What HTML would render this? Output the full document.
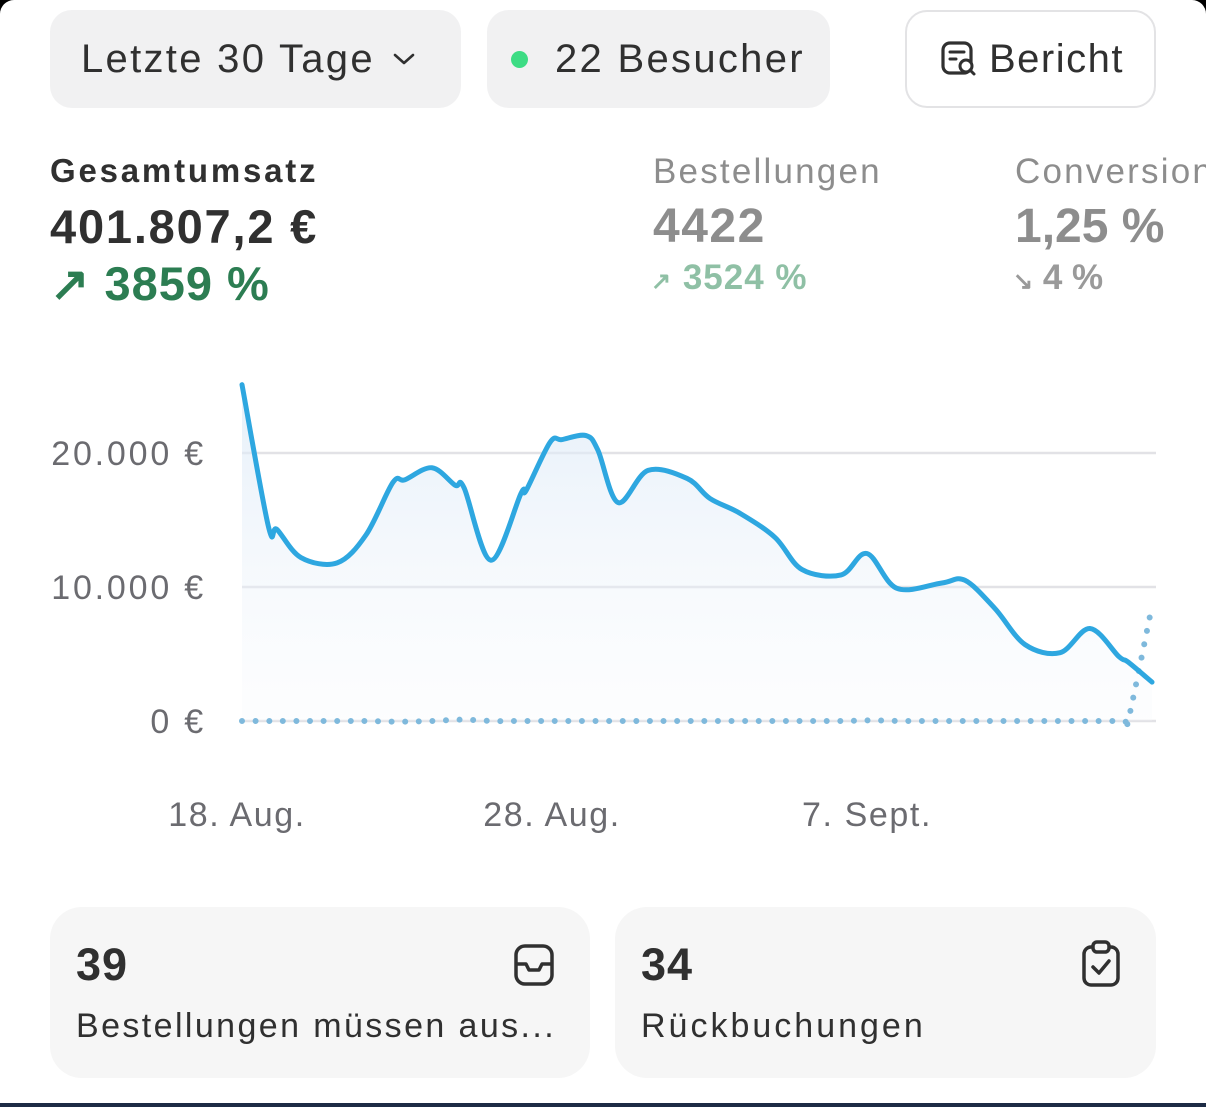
<!DOCTYPE html>
<html><head><meta charset="utf-8">
<style>
html,body{margin:0;padding:0;}
body{width:1206px;height:1107px;position:relative;overflow:hidden;background:#fff;font-family:"Liberation Sans",sans-serif;}
.abs{position:absolute;}
.pill{position:absolute;top:10px;height:98px;border-radius:22px;background:#f1f1f2;box-sizing:border-box;display:flex;align-items:center;font-size:40px;color:#303030;letter-spacing:2.3px;white-space:nowrap;}
.lab{position:absolute;font-size:34px;white-space:nowrap;}
.card{position:absolute;top:907px;height:171px;border-radius:32px;background:#f6f6f6;}
</style></head><body>
<div class="abs" style="left:0;top:0;width:14px;height:14px;background:#000;"></div>
<div class="abs" style="left:0;top:0;width:14px;height:14px;background:#fff;border-top-left-radius:14px;"></div>
<div class="abs" style="right:0;top:0;width:14px;height:14px;background:#000;"></div>
<div class="abs" style="right:0;top:0;width:14px;height:14px;background:#fff;border-top-right-radius:14px;"></div>

<div class="pill" style="left:50px;width:411px;padding-left:31px;">Letzte 30 Tage
<svg width="26" height="20" viewBox="0 0 26 20" style="margin-left:16px"><path d="M4 6 L13 14 L22 6" fill="none" stroke="#303030" stroke-width="2.6" stroke-linecap="round" stroke-linejoin="round"/></svg></div>
<div class="pill" style="left:487px;width:343px;padding-left:24px;"><span style="display:inline-block;width:17px;height:17px;border-radius:50%;background:#3ddc84;margin-right:27px;"></span>22 Besucher</div>
<div class="pill" style="left:905px;width:251px;background:#fff;border:2px solid #e3e3e5;padding-left:32px;letter-spacing:1.5px;">
<svg width="40" height="40" viewBox="0 0 40 40" style="margin-right:10px"><rect x="4" y="4" width="28" height="30" rx="7" fill="none" stroke="#303030" stroke-width="3.2"/><path d="M11 13h14M11 20h6" stroke="#303030" stroke-width="3" stroke-linecap="round"/><circle cx="27" cy="27" r="6" fill="#fff" stroke="#303030" stroke-width="3"/><path d="M31 31l4 4" stroke="#303030" stroke-width="3" stroke-linecap="round"/></svg>Bericht</div>

<div class="lab" style="left:50px;top:152px;font-size:33px;font-weight:bold;color:#303030;letter-spacing:2.8px;">Gesamtumsatz</div>
<div class="lab" style="left:50px;top:199px;font-size:47px;font-weight:bold;color:#303030;letter-spacing:1.8px;">401.807,2 €</div>
<div class="lab" style="left:50px;top:256px;font-size:47px;font-weight:bold;color:#2c7d52;letter-spacing:1px;">↗ 3859 %</div>
<div class="lab" style="left:653px;top:152px;font-size:35px;color:#8d8d8d;letter-spacing:2.2px;">Bestellungen</div>
<div class="lab" style="left:653px;top:199px;font-size:48px;font-weight:bold;color:#8d8d8d;letter-spacing:1.5px;">4422</div>
<div class="lab" style="left:651px;top:258px;font-size:35px;font-weight:bold;color:#8fc0a5;letter-spacing:1px;"><span style="font-size:24px">↗</span> 3524 %</div>
<div class="lab" style="left:1015px;top:152px;font-size:35px;color:#8d8d8d;letter-spacing:2.2px;">Conversion</div>
<div class="lab" style="left:1015px;top:199px;font-size:48px;font-weight:bold;color:#8d8d8d;">1,25 %</div>
<div class="lab" style="left:1013px;top:258px;font-size:35px;font-weight:bold;color:#9a9a9a;"><span style="font-size:24px">↘</span> 4 %</div>

<svg id="chart" class="abs" style="left:0;top:0" width="1206" height="880">
<defs><linearGradient id="fillg" x1="0" y1="0" x2="0" y2="1"><stop offset="0" stop-color="#dbe9f7" stop-opacity="0.7"/><stop offset="1" stop-color="#f4f7fb" stop-opacity="0.2"/></linearGradient></defs>
<g id="grid"></g><g id="marks"></g><g id="labels"></g>
</svg>

<div class="card" style="left:50px;width:540px;">
<div class="lab" style="left:26px;top:32px;font-size:45px;font-weight:bold;color:#303030;letter-spacing:1px;">39</div>
<div class="lab" style="left:26px;top:100px;font-size:34px;color:#303030;letter-spacing:2.4px;">Bestellungen müssen aus...</div>
<svg class="abs" style="left:462px;top:35px" width="44" height="46" viewBox="0 0 44 46"><rect x="4" y="4" width="36" height="38" rx="9" fill="none" stroke="#303030" stroke-width="3.5"/><path d="M4 22h10l3 6h10l3-6h10" fill="none" stroke="#303030" stroke-width="3.5" stroke-linejoin="round"/></svg>
</div>
<div class="card" style="left:615px;width:541px;">
<div class="lab" style="left:26px;top:32px;font-size:45px;font-weight:bold;color:#303030;letter-spacing:1px;">34</div>
<div class="lab" style="left:26px;top:100px;font-size:34px;color:#303030;letter-spacing:3px;">Rückbuchungen</div>
<svg class="abs" style="left:466px;top:32px" width="40" height="50" viewBox="0 0 40 50"><rect x="3" y="8" width="34" height="38" rx="7" fill="none" stroke="#303030" stroke-width="3.5"/><rect x="12" y="3" width="16" height="10" rx="4" fill="#f6f6f6" stroke="#303030" stroke-width="3.5"/><path d="M12 28l6 6 10-12" fill="none" stroke="#303030" stroke-width="3.5" stroke-linecap="round" stroke-linejoin="round"/></svg>
</div>
<div class="abs" style="left:0;top:1103px;width:1206px;height:4px;background:#1d2b45;"></div>

<script>
const dayOffsets=[0,0.84,1.11,1.87,3.02,3.94,4.79,5.17,6.03,6.76,7.05,7.90,8.86,9.02,9.78,10.16,10.92,11.30,11.94,12.89,14.13,14.86,15.81,16.92,17.78,19.02,19.84,20.79,22.22,22.95,23.90,24.86,25.97,26.92,27.84,28.13,28.89];
const revenueValues=[25100,14500,14300,12200,11800,13900,17800,18000,18900,17600,17400,12000,17000,17200,20800,21000,21300,20200,16300,18700,18100,16600,15500,13700,11300,10900,12500,9900,10300,10500,8400,5700,5100,6900,4800,4400,2900];
const prevDays=[0,1,2,3,4,5,6,7,8,9,10,11,12,13,14,15,16,17,18,19,20,21,22,23,24,25,26,27,28,28.13,28.9];
const prevValues=[0,0,0,0,0,-50,0,100,0,0,0,0,0,0,0,0,0,0,0,0,50,0,0,0,0,0,0,0,0,0,8700];
const yTicks=[0,10000,20000];
const yTickLabels=["0 €","10.000 €","20.000 €"];
const xTickDays=[0,10,20];
const xTickLabels=["18. Aug.","28. Aug.","7. Sept."];
const NS="http://www.w3.org/2000/svg";
const X=d=>242+d*31.5;
const Y=v=>721-v*0.0134;
function mk(tag,attrs,parent){const e=document.createElementNS(NS,tag);for(const k in attrs)e.setAttribute(k,attrs[k]);parent.appendChild(e);return e;}
function smooth(xs,ys){let p=`M${X(xs[0])},${Y(ys[0])}`;const n=xs.length;for(let i=0;i<n-1;i++){const p0=[X(xs[Math.max(0,i-1)]),Y(ys[Math.max(0,i-1)])],p1=[X(xs[i]),Y(ys[i])],p2=[X(xs[i+1]),Y(ys[i+1])],p3=[X(xs[Math.min(n-1,i+2)]),Y(ys[Math.min(n-1,i+2)])];const c1=[p1[0]+(p2[0]-p0[0])/6,p1[1]+(p2[1]-p0[1])/6],c2=[p2[0]-(p3[0]-p1[0])/6,p2[1]-(p3[1]-p1[1])/6];p+=` C${c1[0]},${c1[1]} ${c2[0]},${c2[1]} ${p2[0]},${p2[1]}`;}return p;}
const grid=document.getElementById('grid'),marks=document.getElementById('marks'),labels=document.getElementById('labels');
yTicks.forEach((t,i)=>{
 const l=mk('line',{x1:242,x2:1156,y1:Y(t),y2:Y(t),stroke:'#e2e2e6','stroke-width':2.5},grid);
 
 
 const tx=mk('text',{x:206,y:Y(t)+12,'text-anchor':'end','font-size':34,fill:'#6b6b70','letter-spacing':'2.8','font-family':'Liberation Sans, sans-serif'},labels);
 tx.textContent=yTickLabels[i];
 
 
});
xTickDays.forEach((d,i)=>{
 const tx=mk('text',{x:X(d)-5,y:826,'text-anchor':'middle','font-size':34,fill:'#6b6b70','letter-spacing':'1.6','font-family':'Liberation Sans, sans-serif'},labels);
 tx.textContent=xTickLabels[i];
 
 
});
const linePath=smooth(dayOffsets,revenueValues);
const area=mk('path',{d:linePath+` L${X(dayOffsets[dayOffsets.length-1])},${Y(0)} L${X(0)},${Y(0)} Z`,fill:'url(#fillg)'},marks);


const prev=mk('path',{d:smooth(prevDays,prevValues),fill:'none',stroke:'#7fb9dc','stroke-width':6,'stroke-linecap':'round','stroke-dasharray':'0 13.6'},marks);


const line=mk('path',{d:linePath,fill:'none',stroke:'#2ea7e0','stroke-width':5,'stroke-linecap':'round','stroke-linejoin':'round'},marks);


</script>
</body></html>
